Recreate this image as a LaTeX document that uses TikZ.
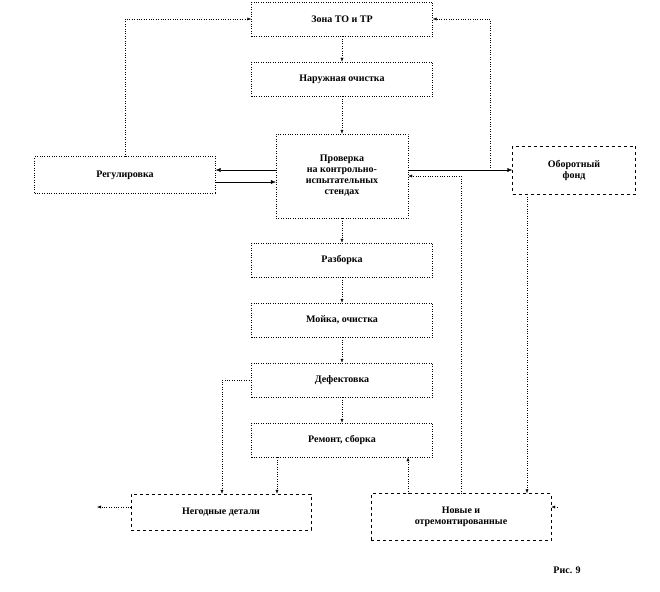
\documentclass[tikz,border=0pt]{standalone}
\usepackage{fontspec}
\setmainfont{Liberation Serif}
\usetikzlibrary{arrows.meta}
\tikzset{font={\fontsize{10pt}{11pt}\selectfont\bfseries},
  blok/.style={draw, dotted, minimum width=181pt, minimum height=34pt, inner sep=1pt},
  fond/.style={draw, dashed, align=center, inner sep=1pt},
  sv/.style={dotted, -{Latex[length=4pt,width=3pt]}},
  sp/.style={-{Latex[length=5pt,width=4pt]}}}
\begin{document}
\begin{tikzpicture}[x=1pt,y=-1pt]
  \useasboundingbox (0,0) rectangle (660,591);
  %main chain
  \node[blok] (zona) at (342,19) {Зона ТО и ТР};
  \node[blok] (nar) at (342,79) {Наружная очистка};
  \node[blok, minimum width=132pt, minimum height=84pt, align=center] (prov) at (342,176)
    {Проверка\\на контрольно-\\испытательных\\стендах};
  \node[blok, minimum height=37pt] (reg) at (125,175) {Регулировка};
  \node[fond, minimum width=123pt, minimum height=48pt] (obo) at (574,170) {Оборотный\\фонд};
  \node[blok] (raz) at (342,260) {Разборка};
  \node[blok] (moi) at (342,320) {Мойка, очистка};
  \node[blok] (def) at (342,380) {Дефектовка};
  \node[blok] (rem) at (342,440) {Ремонт, сборка};
  \node[fond, minimum width=180pt, minimum height=36pt] (neg) at (221,512) {Негодные детали};
  \node[fond, minimum width=180pt, minimum height=47pt] (nov) at (461,517) {Новые и\\отремонтированные};
  \node (ris) at (567,570) {Рис. 9};
  \coordinate (vyh) at (97,507);
  \coordinate (vh) at (557,507);
  %arrows
  \draw[sv] (zona) -- (nar);
  \draw[sv] (nar) -- (prov);
  \draw[sv] (prov) -- (raz);
  \draw[sv] (raz) -- (moi);
  \draw[sv] (moi) -- (def);
  \draw[sv] (def) -- (rem);
  \draw[sv] (reg.north) |- (zona.west);
  \draw[sp] (prov.west |- 0,170) -- (reg.east |- 0,170);
  \draw[sp] (reg.east |- 0,182) -- (prov.west |- 0,182);
  \draw[sp] (prov.east |- 0,170) -- (obo.west |- 0,170);
  \draw[sv] (490,170) |- (zona.east);
  \draw[sv] (nov.north -| 461,0) |- (prov.east |- 0,176);
  \draw[sv] (obo.south -| 527,0) -- (nov.north -| 527,0);
  \draw[sv] (def.west) -| (neg.north -| 222,0);
  \draw[sv] (rem.south -| 277,0) -- (neg.north -| 277,0);
  \draw[sv] (nov.north -| 408,0) -- (rem.south -| 408,0);
  \draw[sv] (neg.west |- vyh) -- (vyh);
  \draw[sv] (vh) -- (nov.east |- vh);
\end{tikzpicture}
\end{document}
